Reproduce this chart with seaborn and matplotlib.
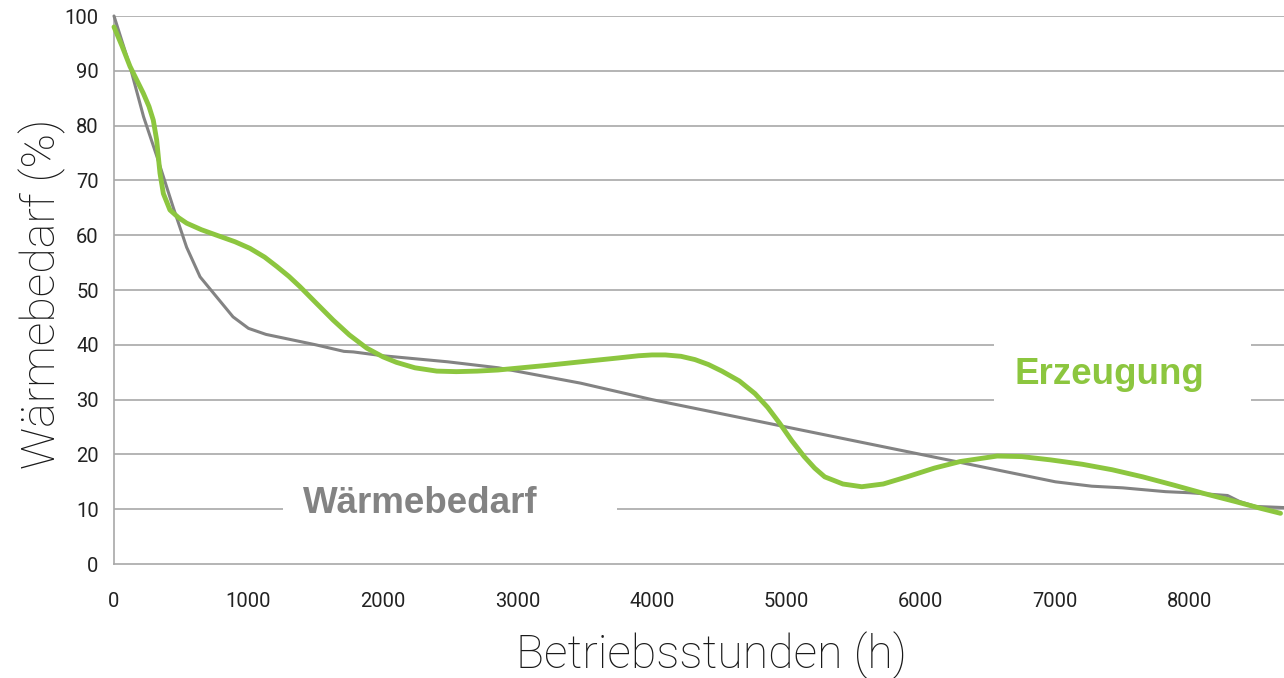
import matplotlib
matplotlib.use("Agg")
import matplotlib.pyplot as plt
from matplotlib.patches import Rectangle
import seaborn as sns
import pandas as pd

# ---- data ----
hours_bedarf = [0, 120, 220, 320, 440, 540, 640, 885, 1000, 1130, 1500, 1710, 1780,
                2000, 2480, 2860, 3470, 4000, 4500, 5000, 5500, 6000, 6500, 7000,
                7270, 7500, 7820, 8000, 8280, 8370, 8490, 8700]
bedarf = [100, 90.7, 81.6, 74.3, 65.1, 57.8, 52.4, 45.1, 43.0, 41.9, 40.0, 38.8, 38.7,
          38.0, 36.9, 35.8, 33.0, 30.0, 27.5, 25.0, 22.5, 20.0, 17.5, 15.0,
          14.2, 13.9, 13.2, 13.0, 12.5, 11.4, 10.5, 10.3]

hours_erzeugung = [0, 60, 119, 218, 260, 292, 317, 342, 367, 416, 480, 540, 650, 763,
                   900, 1011, 1120, 1210, 1300, 1383, 1500, 1630, 1750, 1879, 2000,
                   2100, 2238, 2400, 2546, 2700, 2855, 3200, 3472, 3750, 3900, 4000,
                   4100, 4216, 4320, 4420, 4520, 4650,
                   4766, 4860, 4949, 5040, 5132, 5210, 5285, 5420, 5560, 5720, 5896,
                   6100, 6292, 6567, 6750, 6964, 7200, 7422, 7650, 7880, 8100, 8338,
                   8520, 8674]
erzeugung = [98.0, 94.5, 90.8, 85.9, 83.5, 81.0, 77.4, 71.3, 67.6, 64.6, 63.2, 62.2,
             61.0, 60.0, 58.8, 57.6, 56.0, 54.3, 52.5, 50.6, 47.7, 44.5, 41.8, 39.4,
             37.8, 36.8, 35.8, 35.2, 35.1, 35.2, 35.4, 36.2, 36.9, 37.6, 38.0, 38.15,
             38.15, 37.9, 37.3, 36.4, 35.2, 33.4,
             31.1, 28.6, 25.7, 22.5, 19.6, 17.5, 15.9, 14.6, 14.1, 14.6, 15.9, 17.5,
             18.7, 19.7, 19.6, 19.0, 18.2, 17.2, 15.9, 14.4, 12.9, 11.4, 10.2, 9.25]

x_ticks = [0, 1000, 2000, 3000, 4000, 5000, 6000, 7000, 8000]
y_ticks = [0, 10, 20, 30, 40, 50, 60, 70, 80, 90, 100]

xlabel = "Betriebsstunden (h)"
ylabel = "Wärmebedarf (%)"
label_bedarf = "Wärmebedarf"
label_erzeugung = "Erzeugung"

GRAY = "#838383"
GREEN = "#8cc63f"
GRID = "#a8a8a8"

sns.set_style("white")
plt.rcParams["font.family"] = ["Roboto", "DejaVu Sans"]

df_b = pd.DataFrame({"h": hours_bedarf, "v": bedarf})
df_e = pd.DataFrame({"h": hours_erzeugung, "v": erzeugung})

fig = plt.figure(figsize=(12.84, 6.78), dpi=100)
ax = fig.add_axes([114 / 1284, 114 / 678, 1 - 114 / 1284, 548 / 678])

ax.set_xlim(0, 8700)
ax.set_ylim(0, 100)
ax.set_yticks(y_ticks)
ax.set_xticks(x_ticks)
ax.set_xticklabels([str(t) for t in x_ticks])
ax.set_yticklabels([str(t) for t in y_ticks])

for yv in y_ticks[1:]:
    ax.axhline(yv, color=GRID, lw=1.2, zorder=1)

# white label backgrounds that interrupt the grid lines
ax.add_patch(Rectangle((1256, 6.5), 3740 - 1256, 10.0, fc="white", ec="none", zorder=2))
ax.add_patch(Rectangle((6543, 26.5), 8454 - 6543, 16.0, fc="white", ec="none", zorder=2))

sns.lineplot(data=df_b, x="h", y="v", ax=ax, color=GRAY, lw=2.2, zorder=3,
             sort=False, clip_on=False)
sns.lineplot(data=df_e, x="h", y="v", ax=ax, color=GREEN, lw=3.5, zorder=4,
             sort=False, clip_on=False, solid_capstyle="round",
             solid_joinstyle="round")

ax.text(1405, 9.3, label_bedarf, color=GRAY, fontsize=26.5,
        fontweight="bold", family=["Liberation Sans", "DejaVu Sans"],
        ha="left", va="baseline", zorder=5)
ax.text(6699, 32.85, label_erzeugung, color=GREEN, fontsize=26.5,
        fontweight="bold", family=["Liberation Sans", "DejaVu Sans"],
        ha="left", va="baseline", zorder=5)

for s in ["top", "right"]:
    ax.spines[s].set_visible(False)
for s in ["left", "bottom"]:
    ax.spines[s].set_color(GRID)
    ax.spines[s].set_linewidth(1.2)

ax.tick_params(axis="x", direction="out", length=6, width=1.2, color=GRID,
               pad=14, labelsize=14.5, labelcolor="#222222")
ax.tick_params(axis="y", direction="out", length=5, width=1.2, color=GRID,
               pad=6, labelsize=14.5, labelcolor="#222222")
ax.set_xlabel("")
ax.set_ylabel("")

fig.text(711 / 1284, 1 - 668 / 678, xlabel, fontsize=33.5, fontweight="light",
         family=["Roboto", "DejaVu Sans"], ha="center", va="baseline", color="#1a1a1a")
fig.text(42 / 1284, 1 - 294 / 678, ylabel, fontsize=33.5, fontweight="light",
         family=["Roboto", "DejaVu Sans"], ha="center", va="center", rotation=90,
         color="#1a1a1a")

fig.savefig("out.png", dpi=100)
